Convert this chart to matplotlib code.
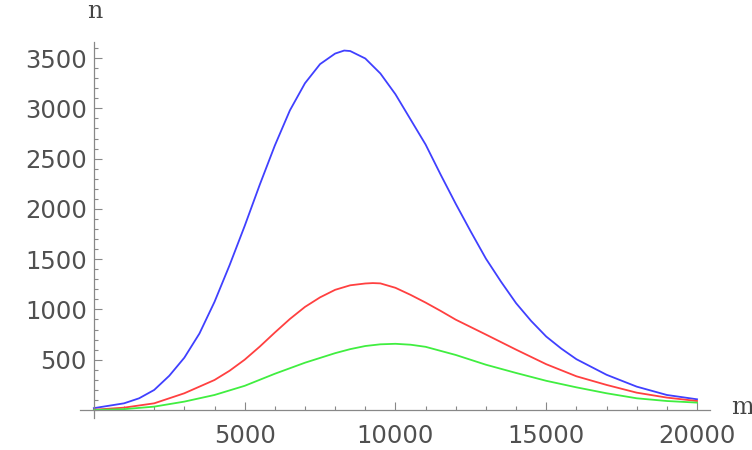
import matplotlib
matplotlib.use("Agg")
import matplotlib.pyplot as plt
from matplotlib.ticker import MultipleLocator, FixedLocator

# values
blue_m = [0, 1000, 1500, 2000, 2500, 3000, 3500, 4000, 4500, 5000, 5500, 6000, 6500,
          7000, 7500, 8000, 8300, 8500, 9000, 9500, 10000, 10500, 11000, 11500,
          12000, 12500, 13000, 13500, 14000, 14500, 15000, 15500, 16000, 17000,
          18000, 19000, 20000]
blue_n = [18, 66, 116, 199, 340, 520, 760, 1075, 1440, 1830, 2240, 2630, 2980,
          3250, 3440, 3545, 3575, 3570, 3496, 3347, 3140, 2890, 2640, 2340,
          2050, 1773, 1505, 1276, 1062, 885, 730, 610, 505, 350,
          232, 149, 106]

red_m = [0, 1000, 2000, 3000, 4000, 4500, 5000, 5500, 6000, 6500, 7000, 7500, 8000,
         8500, 9000, 9250, 9500, 10000, 10500, 11000, 11500, 12000, 13000,
         14000, 15000, 16000, 17000, 18000, 19000, 20000]
red_n = [2, 23, 66, 166, 298, 390, 500, 630, 770, 905, 1025, 1120, 1195,
         1240, 1258, 1262, 1259, 1215, 1145, 1068, 985, 898, 750,
         600, 455, 335, 249, 172, 123, 89]

green_m = [0, 1000, 2000, 3000, 4000, 5000, 6000, 7000, 8000, 8500, 9000, 9500,
           10000, 10500, 11000, 12000, 13000, 14000, 15000, 16000, 17000,
           18000, 19000, 20000]
green_n = [0, 8, 33, 83, 149, 240, 360, 470, 565, 605, 636, 653,
           658, 649, 628, 547, 450, 368, 290, 225, 166,
           116, 89, 73]

x_ticks = [5000, 10000, 15000, 20000]
y_ticks = [500, 1000, 1500, 2000, 2500, 3000, 3500]

fig = plt.figure(figsize=(7.52, 4.5), dpi=100)
ax = fig.add_axes([80 / 752, 32 / 450, 630 / 752, 376 / 450])

ax.plot(blue_m, blue_n, color="#4040ff", lw=1.3)
ax.plot(red_m, red_n, color="#ff4040", lw=1.3)
ax.plot(green_m, green_n, color="#40ee40", lw=1.3)

ax.set_xlim(-460, 20430)
ax.set_ylim(-80, 3660)

# axes cross at the origin, mathematica style
ax.spines["left"].set_position(("data", 0))
ax.spines["bottom"].set_position(("data", 0))
ax.spines["top"].set_visible(False)
ax.spines["right"].set_visible(False)
for s in ("left", "bottom"):
    ax.spines[s].set_color("#888888")
    ax.spines[s].set_linewidth(0.9)

ax.xaxis.set_major_locator(FixedLocator(x_ticks))
ax.yaxis.set_major_locator(FixedLocator(y_ticks))
ax.xaxis.set_minor_locator(MultipleLocator(1000))
ax.yaxis.set_minor_locator(MultipleLocator(100))

ax.tick_params(which="both", direction="in", color="#888888", width=0.8,
               labelsize=17.5, labelcolor="#505050")
ax.tick_params(which="major", length=6)
ax.tick_params(which="minor", length=3)
ax.tick_params(axis="x", which="major", pad=10)
ax.tick_params(axis="y", which="major", pad=5)

fig.text(95 / 752, 1 - 12 / 450, "n", family="DejaVu Serif", fontsize=17,
         color="#444444", ha="center", va="center")
fig.text(742 / 752, 1 - 408 / 450, "m", family="DejaVu Serif", fontsize=17,
         color="#444444", ha="center", va="center")

fig.savefig("out.png", dpi=100)
